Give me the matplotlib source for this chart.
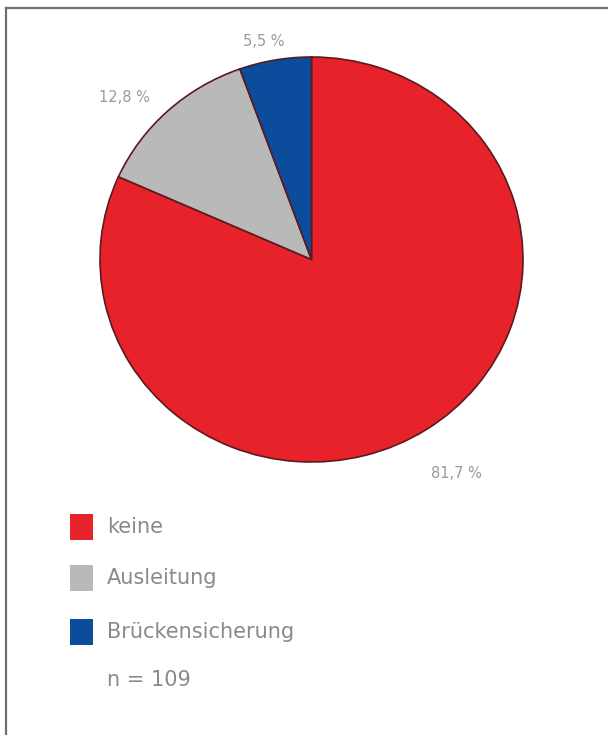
import matplotlib.pyplot as plt
import numpy as np
from matplotlib.patches import Rectangle
from matplotlib.lines import Line2D

# Sicherungsart (n = 109)
categories = ['keine', 'Ausleitung', 'Brückensicherung']
counts = [89, 14, 6]
shares = [81.7, 12.8, 5.5]
n_total = 109

colors = ['#e8222b', '#b9b9b9', '#0b4c9c']
# label placement: radial distance and angular nudge (deg) per slice
label_dist = [1.26, 1.19, 1.10]
label_nudge = [0.0, 5.0, 2.0]

W, H = 608, 735
fig = plt.figure(figsize=(W / 100, H / 100), dpi=100)
fig.patch.set_facecolor('white')

# frame lines along top and left
fig.add_artist(Line2D([6 / W, 1], [1 - 8 / H, 1 - 8 / H], color='#6e6e6e', lw=1.6))
fig.add_artist(Line2D([6 / W, 6 / W], [1 - 8 / H, 0], color='#6e6e6e', lw=1.6))

ax = fig.add_axes([100 / W, 1 - 462 / H, 423 / W, 405 / H])
wedges, _ = ax.pie(shares, colors=colors, startangle=90, counterclock=False,
                   wedgeprops=dict(edgecolor='#5a1a1e', linewidth=1.2))
ax.set_aspect('auto')
ax.set_xlim(-1.0, 1.0)
ax.set_ylim(-1.0, 1.0)

for w, s, d, nudge in zip(wedges, shares, label_dist, label_nudge):
    mid = np.deg2rad((w.theta1 + w.theta2) / 2 + nudge)
    ax.text(d * np.cos(mid), d * np.sin(mid), f'{s:.1f} %'.replace('.', ','),
            ha='center', va='center', fontsize=10.5, color='#9a9a9a',
            clip_on=False)

# legend
row_y = [527, 578, 632]
for y, c, name in zip(row_y, colors, categories):
    fig.add_artist(Rectangle((70 / W, 1 - (y + 13) / H), 23 / W, 26 / H,
                             transform=fig.transFigure, facecolor=c, edgecolor='none'))
    fig.text(107 / W, 1 - y / H, name, ha='left', va='center',
             fontsize=15, color='#8a8a8a')
fig.text(107 / W, 1 - 680 / H, f'n = {n_total}', ha='left', va='center',
         fontsize=15, color='#8a8a8a')

fig.savefig('out.png', dpi=100, facecolor='white')
